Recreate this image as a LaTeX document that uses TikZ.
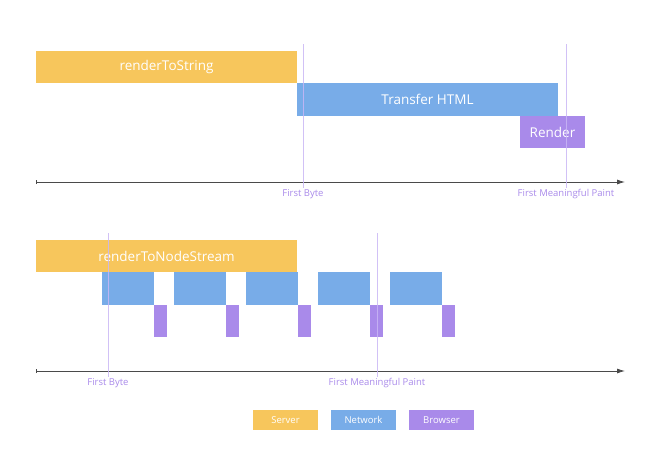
\documentclass[tikz,border=0pt]{standalone}
\usepackage{fontspec}
\setmainfont{Open Sans}
\usetikzlibrary{arrows.meta,positioning}
\definecolor{Server}{HTML}{F7C65C}
\definecolor{Network}{HTML}{78ACE8}
\definecolor{Browser}{HTML}{A98AEA}
\definecolor{Mark}{HTML}{C9B6F5}
\definecolor{Axis}{HTML}{4A4A4A}
\tikzset{
  bar/.style={inner sep=0pt,outer sep=0pt,text=white,font=\fontsize{13.5}{15}\selectfont},
  server/.style={bar,fill=Server,minimum width=261pt,minimum height=32pt},
  network/.style={bar,fill=Network,minimum height=33pt},
  browser/.style={bar,fill=Browser,minimum height=32pt},
  chunk/.style={network,minimum width=52pt},
  paint/.style={browser,minimum width=13pt},
  legend/.style={bar,minimum width=65pt,minimum height=20pt,font=\fontsize{9.5}{11}\selectfont},
  marker/.style={draw=Mark,line width=.9pt,opacity=.85},
  marklabel/.style={text=Browser,font=\fontsize{9.5}{11}\selectfont,inner sep=1pt,anchor=north},
  axis/.style={draw=Axis,line width=.8pt,{Bar[width=4pt]}-{Latex[length=8pt,width=5pt]}}
}
\begin{document}
\begin{tikzpicture}[x=1pt,y=-1pt]
    \useasboundingbox (0,0) rectangle (657,455);
    % renderToString
    \node[server,anchor=north west] (str) at (36,51) {renderToString};
    \node[network,minimum width=261pt,anchor=north west] (html) at (str.south east) {Transfer HTML};
    \node[browser,minimum width=65pt,anchor=north east] (render) at (585,116) {Render};
    \coordinate (axa) at (36,182); \coordinate (axb) at (625,182);
    \draw[axis] (axa)--(axb);
    \node[marklabel] (fb1) at (303,188) {First Byte};
    \node[marklabel] (fmp1) at (566,188) {First Meaningful Paint};
    \coordinate (fb1top) at (303,44); \coordinate (fmp1top) at (566,44);
    \draw[marker] (fb1top)--(fb1.north); \draw[marker] (fmp1top)--(fmp1.north);

    % renderToNodeStream
    \node[server,anchor=north west] (stream) at (36,240) {renderToNodeStream};
    \node[chunk,anchor=north west] (net1) at (102,272) {};
    \node[chunk,right=20pt of net1] (net2) {};
    \node[chunk,right=20pt of net2] (net3) {};
    \node[chunk,right=20pt of net3] (net4) {};
    \node[chunk,right=20pt of net4] (net5) {};
    \foreach \i in {1,...,5}
      \node[paint,anchor=north west] (paint\i) at (net\i.south east) {};
    \coordinate (axc) at (36,371); \coordinate (axd) at (625,371);
    \draw[axis] (axc)--(axd);
    \node[marklabel] (fb2) at (108,377) {First Byte};
    \node[marklabel] (fmp2) at (377,377) {First Meaningful Paint};
    \coordinate (fb2top) at (108,233); \coordinate (fmp2top) at (377,233);
    \draw[marker] (fb2top)--(fb2.north); \draw[marker] (fmp2top)--(fmp2.north);

    % legend
    \node[legend,fill=Server,anchor=north west] (lserver) at (253,410) {Server};
    \node[legend,fill=Network,right=13pt of lserver] (lnetwork) {Network};
    \node[legend,fill=Browser,right=13pt of lnetwork] (lbrowser) {Browser};
  \end{tikzpicture}
\end{document}
